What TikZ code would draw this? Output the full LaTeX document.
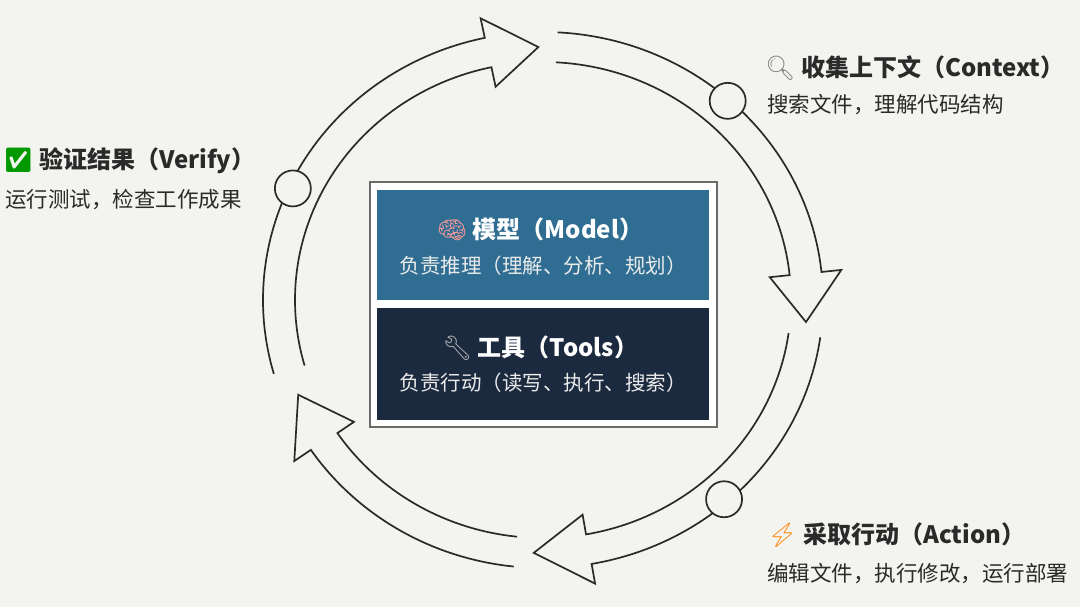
\documentclass[tikz,border=0pt]{standalone}
\usepackage{fontspec}
\setmainfont{Noto Sans CJK SC}
\newfontfamily\emo{Noto Emoji}
\definecolor{bgpaper}{HTML}{F3F3EF}
\definecolor{modelblue}{HTML}{2F6E92}
\definecolor{toolnavy}{HTML}{1C2A3F}
\definecolor{inkdark}{HTML}{2A2A2A}
\tikzset{
  ringline/.style={draw=inkdark, line width=1.7pt, line join=miter},
  knot/.style={circle, draw=inkdark, line width=1.7pt, fill=bgpaper, minimum size=36pt, inner sep=0pt},
  steptitle/.style={anchor=west, inner sep=0pt, font=\fontsize{24}{28}\selectfont\bfseries, text=inkdark},
  stepnote/.style={anchor=west, inner sep=0pt, font=\fontsize{21.5}{26}\selectfont, text=inkdark},
  boxtitle/.style={inner sep=0pt, font=\fontsize{24}{28}\selectfont\bfseries, text=white},
  boxnote/.style={inner sep=0pt, font=\fontsize{20.5}{24}\selectfont, text=white!92!black}
}
% hollow arrow along the ring: start angle, head base angle, tip angle
\newcommand{\ringarrow}[3]{%
  \draw[ringline] ($(C)+(#1:280 and 268)$)
    arc[start angle=#1, end angle=#2, x radius=280, y radius=268]
    -- ($(C)+(#2:300 and 288)$) -- ($(C)+(#3:264 and 253)$)
    -- ($(C)+(#2:228 and 218)$) -- ($(C)+(#2:248 and 238)$)
    arc[start angle=#2, end angle=#1, x radius=248, y radius=238];}
\usetikzlibrary{calc}
\begin{document}
\begin{tikzpicture}[x=1pt,y=1pt]
  \fill[bgpaper] (0,0) rectangle (1080,-607);
  \useasboundingbox (0,0) rectangle (1080,-607);
  \coordinate (C) at (543,-300);

  % the loop
  \ringarrow{196}{102}{91}
  \ringarrow{87}{6}{-5}
  \ringarrow{-8}{-80}{-92}
  \ringarrow{-96}{-146}{-158}
  \node[knot] (kcontext) at ($(C)+(48:276 and 268)$) {};
  \node[knot] (kverify) at ($(C)+(155:276 and 264)$) {};
  \node[knot] (kaction) at ($(C)+(-49:276 and 264)$) {};

  % centre box
  \draw[draw=inkdark!70, line width=1.5pt, fill=white] (370,-182) rectangle (717,-427);
  \fill[modelblue] (377,-190) rectangle (709,-300);
  \fill[toolnavy] (377,-308) rectangle (709,-420);
  \node[boxtitle] (model) at (540,-229) {{\emo\color{pink!80!red}🧠} 模型（Model）};
  \node[boxnote] (modelnote) at (543,-266) {负责推理（理解、分析、规划）};
  \node[boxtitle] (tools) at (540,-348) {{\emo\color{gray!60}🔧} 工具（Tools）};
  \node[boxnote] (toolsnote) at (543,-383) {负责行动（读写、执行、搜索）};

  % step labels
  \node[steptitle] (context) at (765,-68) {{\emo\color{gray}🔍} 收集上下文（Context）};
  \node[stepnote] (contextnote) at (767,-105) {搜索文件，理解代码结构};
  \node[steptitle] (verify) at (3,-161) {{\emo\color{green!60!black}✅} 验证结果（Verify）};
  \node[stepnote] (verifynote) at (5,-200) {运行测试，检查工作成果};
  \node[steptitle] (action) at (767,-535) {{\emo\color{orange}⚡} 采取行动（Action）};
  \node[stepnote] (actionnote) at (767,-574) {编辑文件，执行修改，运行部署};
\end{tikzpicture}
\end{document}
